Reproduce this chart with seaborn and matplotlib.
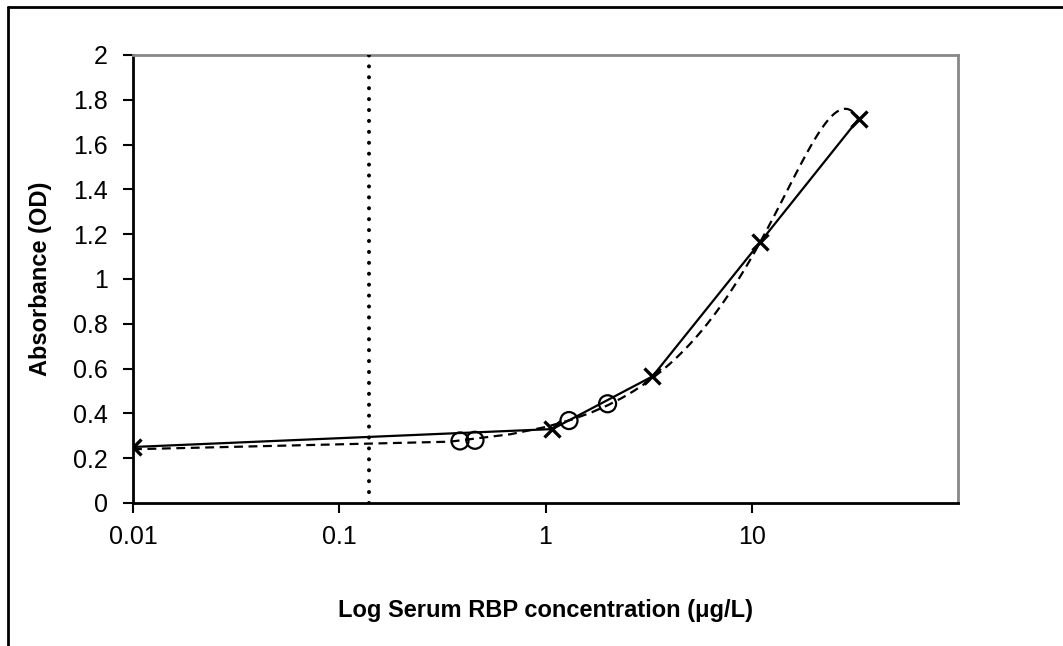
import matplotlib
matplotlib.use("Agg")
import matplotlib.pyplot as plt
from matplotlib.lines import Line2D
import numpy as np
import pandas as pd
import seaborn as sns

# ---- data ----
std_conc = [0.01, 1.08, 3.3, 11.0, 33.0]          # standard curve (x markers, solid line)
std_abs = [0.25, 0.33, 0.565, 1.165, 1.715]
sample_conc = [0.385, 0.455, 1.3, 2.0]             # samples (open circles)
sample_abs = [0.277, 0.28, 0.368, 0.443]
cutoff_conc = 0.14                                 # vertical dotted line
trend_order = 3                                    # polynomial trendline (dashed)
y_ticks = [0, 0.2, 0.4, 0.6, 0.8, 1, 1.2, 1.4, 1.6, 1.8, 2]
y_ticklabels = ["0", "0.2", "0.4", "0.6", "0.8", "1", "1.2", "1.4", "1.6", "1.8", "2"]
x_ticks = [0.01, 0.1, 1, 10]
x_ticklabels = ["0.01", "0.1", "1", "10"]

sns.set_theme(style="white")
plt.rcParams["font.family"] = ["Liberation Sans", "DejaVu Sans"]

fig = plt.figure(figsize=(10.63, 6.46), dpi=100)
W, H = 1063, 646
ax = fig.add_axes([133 / W, 1 - 503 / H, (958 - 133) / W, (503 - 55) / H])

std_df = pd.DataFrame({"conc": std_conc, "od": std_abs})
smp_df = pd.DataFrame({"conc": sample_conc, "od": sample_abs})

ax.set_xscale("log")

# polynomial trendline of the standard curve
sns.regplot(data=std_df, x="conc", y="od", order=trend_order, ci=None,
            truncate=True, scatter=False, ax=ax,
            line_kws=dict(color="black", lw=1.6, dashes=(4, 2.5)))

# vertical cutoff
ax.axvline(cutoff_conc, color="black", lw=2.9, linestyle=(0, (0.01, 2.7)),
           dash_capstyle="round", zorder=3)

# standard curve
sns.lineplot(data=std_df, x="conc", y="od", ax=ax, color="black", lw=1.6,
             marker="x", markersize=11, markeredgewidth=2.4,
             markeredgecolor="black", sort=True, zorder=5)

# samples
sns.scatterplot(data=smp_df, x="conc", y="od", ax=ax, marker="o", s=150,
                facecolor="none", edgecolor="black", linewidth=1.6, zorder=6)

ax.set_xlim(0.01, 100)
ax.set_ylim(0, 2)
ax.set_xticks(x_ticks)
ax.set_xticklabels(x_ticklabels)
ax.xaxis.set_minor_locator(matplotlib.ticker.NullLocator())
ax.set_yticks(y_ticks)
ax.set_yticklabels(y_ticklabels)

ax.tick_params(axis="both", which="major", direction="out", length=7.2, width=1.5,
               color="black", labelsize=18, labelcolor="black",
               bottom=True, left=True)
ax.tick_params(axis="y", pad=11)
ax.tick_params(axis="x", pad=9)

for s in ["left", "bottom"]:
    ax.spines[s].set_color("black")
    ax.spines[s].set_linewidth(2)
for s in ["top", "right"]:
    ax.spines[s].set_color("#888888")
    ax.spines[s].set_linewidth(2)
    ax.spines[s].set_visible(True)

ax.set_xlabel("Log Serum RBP concentration (\u03bcg/L)", fontsize=17,
              fontweight="bold", color="black", labelpad=36)
ax.set_ylabel("Absorbance (OD)", fontsize=17, fontweight="bold",
              color="black", labelpad=15)

# outer border (top and left only)
fig.add_artist(Line2D([8 / W, 1.0], [1 - 7 / H, 1 - 7 / H], color="black",
                      lw=2, transform=fig.transFigure))
fig.add_artist(Line2D([8 / W, 8 / W], [0, 1 - 7 / H], color="black",
                      lw=2, transform=fig.transFigure))

fig.savefig("out.png", dpi=100, facecolor="white")
